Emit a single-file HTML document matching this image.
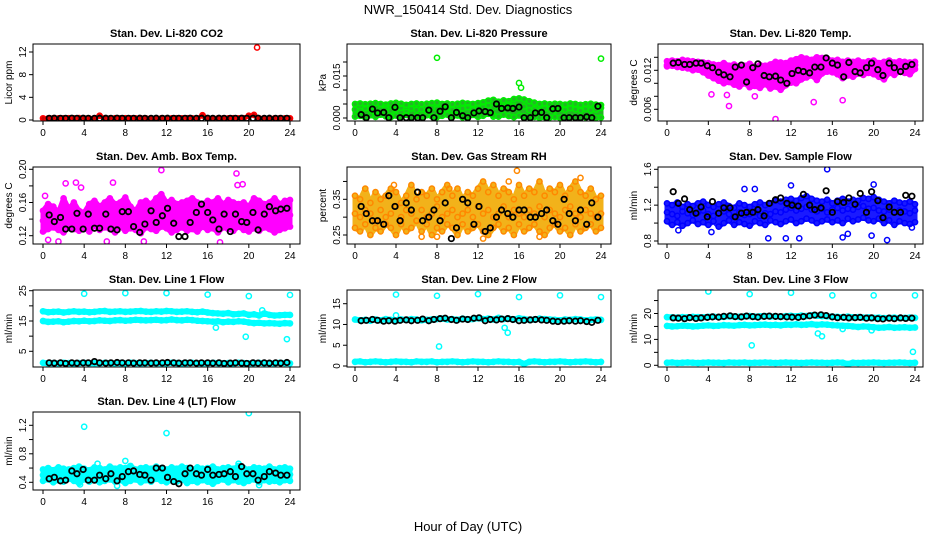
<!DOCTYPE html>
<html><head><meta charset="utf-8"><title>NWR_150414 Std. Dev. Diagnostics</title>
<style>
html,body{margin:0;padding:0;background:#fff;}
svg{display:block;font-family:"Liberation Sans",Arial,sans-serif;}
</style></head>
<body>
<svg id="chart" width="936" height="540" viewBox="0 0 936 540">
<rect x="0" y="0" width="936" height="540" fill="#fff"/>
<text x="468" y="14" text-anchor="middle" font-size="13">NWR_150414 Std. Dev. Diagnostics</text>
<text x="468" y="531" text-anchor="middle" font-size="13">Hour of Day (UTC)</text>
</svg>
<script>
// ---------- DATA ----------
const xTicks = [0,4,8,12,16,20,24];
const blackHours = [0.6,1.1,1.7,2.2,2.8,3.3,3.9,4.4,5.0,5.5,6.1,6.6,7.2,7.7,8.3,8.8,9.4,9.9,10.5,11.0,11.6,12.1,12.7,13.2,13.8,14.3,14.9,15.4,16.0,16.5,17.1,17.6,18.2,18.7,19.3,19.8,20.4,20.9,21.5,22.0,22.6,23.1,23.7];

// CO2
const co2Band = [0.3,0.28,0.32,0.3,0.29,0.31,0.3,0.33,0.3,0.28,0.31,0.75,0.3,0.29,0.32,0.3,0.31,0.29,0.3,0.32,0.3,0.28,0.3,0.31,0.3,0.29,0.32,0.3,0.31,0.3,0.29,0.85,0.3,0.31,0.3,0.29,0.3,0.32,0.3,0.31,0.75,0.9,0.3,0.31,0.29,0.3,0.32,0.3,0.29];
const co2OutX = [20.8,20.0,15.5];
const co2OutY = [12.8,0.7,0.8];
const co2Black = [0.3,0.31,0.29,0.3,0.32,0.3,0.31,0.3,0.29,0.3,0.31,0.3,0.32,0.3,0.3,0.29,0.31,0.3,0.3,0.32,0.3,0.31,0.3,0.29,0.3,0.31,0.3,0.3,0.32,0.3,0.31,0.29,0.3,0.3,0.31,0.3,0.3,0.32,0.3,0.31,0.3,0.29,0.3];

// Pressure
const presHi = [.0050,.0052,.0049,.0051,.0053,.0050,.0048,.0052,.0054,.0051,.0047,.0050,.0052,.0049,.0051,.0053,.0055,.0050,.0052,.0049,.0051,.0054,.0052,.0050,.0053,.0056,.0062,.0065,.0058,.0063,.0060,.0068,.0070,.0066,.0060,.0055,.0050,.0052,.0049,.0051,.0050,.0048,.0052,.0050,.0047,.0049,.0051,.0048,.0046];
const presMid = [.0030,.0025,.0035,.0028,.0020,.0032,.0038,.0026,.0030,.0036,.0022,.0034,.0029,.0031,.0024,.0037,.0033,.0027,.0035,.0030,.0025,.0034,.0039,.0030,.0036,.0041,.0045,.0038,.0042,.0040,.0048,.0043,.0036,.0041,.0028,.0032,.0026,.0035,.0030,.0027,.0033,.0029,.0035,.0031,.0026,.0033,.0028,.0030,.0036];
const presLo = [.0005,.0008,.0002,.0010,.0004,.0012,.0006,.0003,.0009,.0005,.0011,.0002,.0007,.0004,.0010,.0006,.0003,.0008,.0012,.0005,.0009,.0002,.0006,.0011,.0004,.0008,.0015,.0010,.0005,.0012,.0007,.0003,.0009,.0006,.0002,.0004,.0001,.0003,.0002,.0004,.0001,.0003,.0002,.0001,.0003,.0002,.0004,.0001,.0002];
const presOutX = [8,24,16,16.2,13.5];
const presOutY = [.0215,.0212,.0125,.0108,.0005];
const presBlack = [.0012,.0001,.0032,.0018,.0020,.0001,.0038,.0001,.0001,.0001,.0001,.0001,.0028,.0001,.0024,.0040,.0001,.0020,.0008,.0001,.0018,.0025,.0023,.0019,.0050,.0034,.0036,.0034,.0039,.0001,.0001,.0018,.0020,.0001,.0033,.0034,.0001,.0001,.0001,.0001,.0004,.0001,.0042];

// Li-820 temp
const tempHi = [.0134,.0135,.0134,.0136,.0135,.0134,.0133,.0132,.0131,.0129,.0128,.0131,.0127,.0129,.0126,.0127,.0130,.0125,.0128,.0127,.0129,.0133,.0132,.0131,.0135,.0137,.0140,.0138,.0136,.0140,.0139,.0138,.0135,.0136,.0133,.0135,.0133,.0135,.0132,.0134,.0135,.0131,.0133,.0135,.0132,.0134,.0133,.0132,.0133];
const tempMid = [.0128,.0130,.0131,.0129,.0130,.0128,.0129,.0127,.0126,.0122,.0120,.0118,.0115,.0112,.0116,.0110,.0113,.0109,.0114,.0117,.0108,.0112,.0106,.0110,.0118,.0120,.0122,.0118,.0125,.0123,.0128,.0132,.0130,.0127,.0122,.0125,.0127,.0124,.0122,.0126,.0125,.0120,.0124,.0127,.0122,.0126,.0125,.0123,.0128];
const tempLo = [.0126,.0127,.0125,.0124,.0123,.0120,.0121,.0117,.0112,.0108,.0104,.0100,.0102,.0098,.0095,.0100,.0094,.0096,.0093,.0099,.0092,.0095,.0090,.0097,.0101,.0100,.0106,.0109,.0112,.0105,.0115,.0118,.0117,.0114,.0108,.0112,.0110,.0115,.0113,.0116,.0114,.0110,.0106,.0116,.0113,.0118,.0116,.0114,.0122];
const tempOutX = [10.5,6,14.2,17,8.5,4.3,5.8];
const tempOutY = [.0045,.0065,.0071,.0074,.0080,.0083,.0082];
const tempBlack = [.0131,.0132,.0129,.0129,.0131,.0131,.0127,.0124,.0117,.0113,.0110,.0125,.0128,.0102,.0124,.0130,.0112,.0110,.0111,.0105,.0100,.0115,.0120,.0118,.0116,.0125,.0125,.0139,.0131,.0128,.0110,.0132,.0118,.0116,.0124,.0131,.0121,.0112,.0131,.0124,.0118,.0126,.0129];

// Amb box temp
const ambHi = [.150,.158,.155,.148,.165,.152,.160,.150,.148,.158,.162,.155,.160,.165,.158,.160,.166,.155,.150,.160,.162,.158,.165,.170,.160,.163,.158,.160,.162,.165,.160,.158,.162,.160,.165,.158,.163,.160,.158,.160,.155,.165,.162,.158,.160,.165,.158,.162,.163];
const ambMid = [.138,.142,.135,.145,.140,.138,.136,.144,.140,.145,.142,.138,.146,.140,.143,.138,.141,.145,.137,.140,.143,.139,.141,.146,.140,.138,.142,.137,.144,.140,.142,.145,.139,.141,.138,.143,.140,.145,.138,.142,.140,.137,.144,.141,.139,.143,.141,.138,.145];
const ambLo = [.125,.128,.130,.127,.124,.131,.128,.126,.129,.125,.132,.127,.130,.128,.124,.131,.126,.129,.127,.123,.130,.128,.126,.131,.129,.124,.127,.130,.126,.128,.125,.131,.127,.129,.124,.130,.128,.126,.131,.127,.125,.129,.126,.130,.128,.124,.127,.129,.131];
const ambOutX = [11.5,18.8,1.5,0.5,6.2,9.8,17.2,2.2,3.2,6.8,18.9,19.4,3.7,0.2];
const ambOutY = [.199,.195,.113,.115,.113,.113,.112,.183,.184,.184,.181,.182,.178,.168];
const ambBlack = [.145,.137,.142,.128,.128,.147,.128,.146,.129,.129,.146,.128,.127,.149,.149,.131,.124,.134,.150,.136,.144,.153,.135,.119,.119,.136,.148,.158,.148,.139,.128,.146,.125,.146,.137,.136,.148,.127,.146,.155,.150,.152,.153];

// Gas stream RH
const rhHi = [.36,.35,.38,.34,.37,.35,.36,.38,.37,.34,.36,.39,.35,.37,.36,.38,.35,.37,.39,.36,.38,.35,.37,.36,.38,.40,.37,.39,.36,.38,.37,.35,.39,.36,.38,.37,.40,.36,.38,.37,.39,.36,.38,.40,.37,.36,.38,.35,.36];
const rhMid = [.31,.30,.32,.31,.29,.32,.30,.31,.33,.30,.32,.31,.29,.32,.30,.31,.33,.30,.31,.32,.30,.31,.32,.30,.33,.31,.32,.30,.31,.33,.30,.32,.31,.30,.32,.31,.33,.30,.32,.31,.30,.32,.33,.31,.30,.32,.31,.30,.31];
const rhLo = [.27,.26,.28,.25,.27,.26,.28,.27,.25,.28,.26,.27,.29,.26,.28,.25,.27,.26,.28,.27,.25,.28,.26,.27,.28,.26,.25,.27,.28,.26,.27,.25,.28,.26,.27,.28,.26,.25,.27,.28,.26,.27,.25,.28,.26,.27,.28,.26,.27];
const rhOutX = [8,6.5,12.5,18,22,15,3.8,9.2,15.8];
const rhOutY = [.245,.245,.24,.245,.41,.40,.39,.38,.43];
const rhBlack = [.33,.31,.29,.29,.28,.36,.33,.29,.34,.32,.37,.29,.30,.32,.29,.34,.24,.27,.35,.34,.28,.33,.26,.27,.30,.32,.31,.30,.32,.32,.30,.30,.31,.32,.29,.28,.35,.31,.29,.32,.28,.34,.30];

// Sample flow
const sfHi = [1.22,1.20,1.23,1.18,1.21,1.19,1.22,1.24,1.20,1.18,1.21,1.23,1.19,1.17,1.22,1.20,1.18,1.21,1.23,1.20,1.22,1.25,1.24,1.26,1.27,1.25,1.28,1.30,1.27,1.25,1.24,1.26,1.22,1.25,1.27,1.24,1.26,1.25,1.28,1.27,1.29,1.26,1.24,1.22,1.25,1.23,1.22,1.24,1.21];
const sfMid = [1.12,1.10,1.08,1.13,1.11,1.09,1.12,1.14,1.10,1.08,1.11,1.13,1.10,1.07,1.12,1.09,1.10,1.12,1.08,1.11,1.10,1.13,1.12,1.15,1.17,1.14,1.16,1.18,1.15,1.13,1.16,1.12,1.15,1.17,1.14,1.16,1.15,1.18,1.19,1.16,1.17,1.14,1.13,1.15,1.12,1.14,1.13,1.11,1.14];
const sfLo = [1.02,0.98,1.01,0.97,1.00,1.03,0.99,1.01,0.98,1.02,0.96,1.00,1.03,0.98,1.01,0.99,0.97,1.02,1.00,0.98,1.03,1.01,0.99,1.02,1.04,1.00,1.02,1.05,1.03,1.00,1.02,1.04,1.01,1.03,1.00,1.05,1.02,1.04,1.06,1.03,1.02,1.05,1.00,1.03,0.98,1.02,1.00,0.99,1.01];
const sfOutX = [15.5,11.5,12.8,9.8,17,21.3,1.1,4.3,20,12,7.5,8.5,17.5,23.7,19.8];
const sfOutY = [1.60,0.83,0.83,0.83,0.84,0.81,0.92,0.90,1.43,1.42,1.38,1.38,0.88,0.95,0.86];
const sfBlack = [1.35,1.22,1.27,1.15,1.11,1.18,1.07,1.24,1.11,1.17,1.17,1.07,1.11,1.12,1.12,1.15,1.08,1.22,1.26,1.28,1.22,1.20,1.19,1.32,1.20,1.15,1.17,1.36,1.12,1.24,1.23,1.28,1.21,1.33,1.12,1.35,1.25,1.06,1.18,1.12,1.12,1.31,1.30];

// Line 1 flow
const l1Upper = [18.2,17.9,18.0,18.1,17.8,18.0,18.2,18.0,18.1,17.9,18.0,18.2,18.3,18.0,18.1,18.2,18.0,18.1,18.2,18.3,18.1,18.0,18.2,18.1,18.3,18.2,18.0,18.1,18.2,18.0,17.9,18.1,17.8,17.6,17.5,17.4,17.6,17.2,17.3,17.5,17.0,17.2,16.8,17.5,17.0,16.8,16.9,17.0,17.0];
const l1Lower = [15.0,14.7,14.8,14.9,14.6,14.8,15.0,14.9,15.1,14.9,15.0,15.2,15.1,15.0,15.2,15.3,15.1,15.2,15.4,15.3,15.2,15.3,15.4,15.2,15.3,15.5,15.3,15.2,15.4,15.3,15.1,15.0,14.9,14.8,14.9,14.6,14.8,14.7,14.9,14.8,14.5,14.3,14.4,14.2,14.3,14.2,14.1,14.3,14.2];
const l1Bottom = [1.2,1.0,1.1,1.0,1.2,1.1,1.0,1.1,1.2,1.0,1.1,1.0,1.2,1.1,1.0,1.1,1.0,1.2,1.1,1.0,1.1,1.2,1.0,1.1,1.0,1.2,1.1,1.0,1.1,1.2,1.0,1.1,1.0,1.2,1.1,1.0,1.1,1.0,1.2,1.1,1.0,1.1,1.2,1.0,1.1,1.0,1.2,1.1,1.0];
const l1OutX = [4,8,12,16,20,24,19.7,23.7,16.8,21.3];
const l1OutY = [24,24.2,24.2,23.7,23.2,23.6,9.8,9.0,12.8,18.5];
const l1Black = [1.2,1.1,1.2,1.0,1.2,1.1,1.2,1.2,1.6,1.2,1.1,1.2,1.3,1.2,1.2,1.1,1.2,1.2,1.1,1.2,1.2,1.3,1.2,1.1,1.2,1.2,1.1,1.2,1.2,1.1,1.2,1.0,1.1,1.2,1.1,1.0,1.2,1.1,1.2,1.1,1.2,1.1,1.3];

// Line 2 flow
const l2Band = [11.2,11.0,11.1,10.9,11.2,11.0,11.3,11.1,11.0,11.2,11.1,11.3,11.2,11.0,11.1,11.2,11.3,11.4,11.2,11.3,11.1,11.4,11.2,11.3,11.5,11.3,11.4,11.2,11.6,11.3,11.4,11.2,11.5,11.3,11.1,11.2,11.4,11.3,11.2,11.1,11.0,11.2,11.1,11.3,11.2,11.0,11.1,11.2,11.1];
const l2Bottom = [1.0,1.1,0.9,1.0,1.1,1.0,0.9,1.0,1.1,1.0,1.0,0.9,1.1,1.0,1.0,1.1,0.9,1.0,1.0,1.1,1.0,0.9,1.0,1.1,1.0,1.0,0.9,1.0,1.1,1.0,1.0,0.9,1.0,0.5,1.0,1.1,1.0,0.9,1.0,1.0,1.1,1.0,0.9,1.0,1.0,1.1,1.0,0.9,1.0];
const l2OutX = [4,8,12,16,20,24,8.2,14.6,14.9,4];
const l2OutY = [17.2,16.9,17.3,16.6,17.0,16.6,4.7,9.2,8.0,12.2];
const l2Black = [10.9,11.0,11.2,11.0,10.8,10.9,10.8,11.0,11.1,10.9,11.0,11.3,10.9,11.2,11.4,11.5,11.2,11.0,11.3,11.2,11.5,11.6,10.9,11.2,11.1,11.3,11.4,11.2,10.9,11.0,11.1,11.2,11.1,11.0,10.8,10.7,10.8,10.9,10.8,10.9,10.7,10.5,11.0];

// Line 3 flow
const l3Upper = [18.6,18.5,18.4,18.6,18.5,18.7,18.6,18.5,18.7,18.8,18.6,18.7,18.9,18.8,18.7,18.9,19.0,18.8,18.9,19.0,18.8,18.9,18.7,19.0,19.1,18.9,19.2,19.0,19.3,19.1,19.0,18.9,18.8,18.7,18.6,18.8,18.5,18.6,18.4,18.5,18.3,18.4,18.2,18.3,18.4,18.2,18.3,18.4,18.3];
const l3Mid = [15.2,15.0,15.1,15.3,15.2,15.0,15.1,15.3,15.4,15.2,15.3,15.5,15.4,15.3,15.5,15.6,15.4,15.5,15.6,15.7,15.5,15.6,15.4,15.7,15.6,15.8,15.6,15.7,15.9,15.6,15.8,15.7,15.5,15.4,15.3,15.2,15.0,14.8,15.0,14.9,14.7,14.5,14.6,14.8,14.5,14.6,14.7,14.5,14.6];
const l3Bottom = [1.0,1.1,0.9,1.0,1.1,1.0,0.9,1.0,1.1,1.0,1.0,0.9,1.1,1.0,1.0,1.1,0.9,1.0,1.0,1.1,1.0,0.9,1.0,1.1,1.0,1.0,0.9,1.0,1.1,1.0,1.0,0.9,1.0,1.1,1.0,0.5,1.0,0.9,1.0,1.0,1.1,1.0,0.9,1.0,1.0,1.1,1.0,0.9,1.0];
const l3OutX = [4,8,12,16,20,24,8.2,14.6,15,23.8,17,19.8];
const l3OutY = [28.5,27.5,28,27,27,27,7.7,12.3,11.2,5.2,14,13.5];
const l3Black = [18.3,18.2,18.0,18.4,18.1,18.3,18.5,18.7,18.6,18.9,19.1,18.8,18.7,19.0,18.8,18.6,18.9,19.0,18.9,18.8,18.7,18.6,18.5,18.8,19.1,19.4,19.5,19.2,18.7,18.4,18.5,18.3,18.4,18.5,18.2,18.3,18.0,17.9,18.2,18.0,18.3,18.1,18.2];

// Line 4 flow
const l4Hi = [.58,.60,.57,.61,.59,.58,.60,.62,.59,.57,.61,.60,.58,.62,.59,.61,.60,.63,.58,.60,.61,.59,.62,.60,.58,.61,.59,.62,.60,.58,.61,.59,.60,.62,.58,.60,.61,.59,.63,.60,.58,.61,.60,.59,.62,.58,.60,.61,.59];
const l4Mid = [.50,.52,.49,.51,.53,.50,.48,.52,.51,.49,.53,.50,.52,.48,.51,.53,.50,.49,.52,.51,.50,.53,.49,.51,.52,.50,.48,.53,.51,.50,.52,.49,.51,.53,.50,.52,.48,.51,.50,.53,.49,.52,.50,.51,.49,.53,.50,.52,.51];
const l4Lo = [.42,.44,.40,.43,.41,.45,.42,.39,.44,.41,.43,.40,.42,.44,.41,.43,.39,.42,.44,.40,.43,.41,.45,.42,.40,.43,.41,.44,.39,.42,.40,.43,.41,.38,.42,.44,.40,.43,.41,.39,.42,.44,.40,.43,.41,.42,.40,.43,.42];
const l4OutX = [4,12,20,8,7.2,3.6,21,5.3,19];
const l4OutY = [1.18,1.09,1.37,0.70,0.35,0.37,0.36,0.66,0.66];
const l4Black = [.45,.47,.42,.43,.56,.52,.58,.43,.43,.50,.45,.52,.42,.48,.55,.56,.51,.50,.43,.60,.60,.47,.41,.38,.52,.60,.52,.50,.58,.50,.51,.52,.55,.48,.62,.52,.52,.43,.48,.55,.53,.50,.50];

// ---------- DRAWING ----------
const NS = 'http://www.w3.org/2000/svg';
const svg = document.getElementById('chart');
function mk(tag, attrs, parent){
  const e = document.createElementNS(NS, tag);
  for (const k in attrs) e.setAttribute(k, attrs[k]);
  parent.appendChild(e);
  return e;
}
const COLS = [{l:33,r:300,x0:43,x24:290},{l:347,r:611,x0:355,x24:601},{l:658,r:923,x0:667,x24:915}];
const ROWS = [{t:44,b:121},{t:167,b:244},{t:290,b:367},{t:412,b:490}];

function drawPanel(p){
  const c = COLS[p.col], rw = ROWS[p.row];
  const xs = h => c.x0 + (c.x24 - c.x0) * h / 24;
  const ys = v => p.p1 + (p.p2 - p.p1) * (v - p.v1) / (p.v2 - p.v1);
  const g = mk('g', {}, svg);
  
  
  const defsId = 'clip-' + p.name;
  const cp = mk('clipPath', {id: defsId}, g);
  mk('rect', {x:c.l, y:rw.t, width:c.r-c.l, height:rw.b-rw.t}, cp);
  const title = mk('text', {x:(c.l+c.r)/2, y:rw.t-7, 'text-anchor':'middle', 'font-size':11, 'font-weight':'bold'}, g);
  title.textContent = p.title;
  
  
  const yt = mk('text', {transform:`translate(${c.l-21},${(rw.t+rw.b)/2}) rotate(-90)`, 'text-anchor':'middle', 'font-size':10}, g);
  yt.textContent = p.ylab;
  
  
  p.yticks.forEach((v, i) => {
    const y = ys(v);
    const tk = mk('line', {x1:c.l-4, x2:c.l, y1:y, y2:y, stroke:'#000', 'stroke-width':1}, g);
    
    
    if (p.ylabels[i] !== '') {
      const t = mk('text', {transform:`translate(${c.l-7},${y}) rotate(-90)`, 'text-anchor':'middle', 'font-size':10}, g);
      t.textContent = p.ylabels[i];
      
      
    }
  });
  xTicks.forEach(h => {
    const x = xs(h);
    const tk = mk('line', {x1:x, x2:x, y1:rw.b, y2:rw.b+4, stroke:'#000', 'stroke-width':1}, g);
    
    
    const t = mk('text', {x:x, y:rw.b+15, 'text-anchor':'middle', 'font-size':10}, g);
    t.textContent = String(h);
    
    
  });
  const plot = mk('g', {'clip-path':`url(#${defsId})`}, g);
  
  
  const px = (arr, i) => xs(i * 24 / (arr.length - 1));
  if (p.fill) {
    const hi = p.fill[0], lo = p.fill[1];
    const top = hi.map((v, i) => px(hi, i).toFixed(1) + ',' + ys(v).toFixed(1));
    const bot = lo.map((v, i) => px(lo, i).toFixed(1) + ',' + ys(v).toFixed(1)).reverse();
    const pg = mk('polygon', {points: top.concat(bot).join(' '), fill:p.bandColor, stroke:p.bandColor, 'stroke-width':5, 'stroke-linejoin':'round'}, plot);
    
    
  }
  p.bands.forEach(arr => {
    const pts = arr.map((v, i) => px(arr, i).toFixed(1) + ',' + ys(v).toFixed(1)).join(' ');
    const pl = mk('polyline', {points:pts, fill:'none', stroke:p.bandColor, 'stroke-width':p.bandWidth, 'stroke-linejoin':'round', 'stroke-linecap':'round'}, plot);
    
    
  });
  p.bands.forEach(arr => {
    arr.forEach((v, i) => {
      const ci = mk('circle', {cx:px(arr, i), cy:ys(v), r:2.6, fill:'none', stroke:p.color, 'stroke-width':1.5}, plot);
      
      
    });
  });
  p.outX.forEach((h, i) => {
    const ci = mk('circle', {cx:xs(h), cy:ys(p.outY[i]), r:2.6, fill:'none', stroke:p.color, 'stroke-width':1.5}, plot);
    
    
  });
  p.black.forEach((v, i) => {
    const ci = mk('circle', {cx:xs(blackHours[i]), cy:ys(v), r:2.7, fill:'none', stroke:'#000', 'stroke-width':1.8}, plot);
    
    
  });
  const box = mk('rect', {x:c.l, y:rw.t, width:c.r-c.l, height:rw.b-rw.t, fill:'none', stroke:'#000', 'stroke-width':1}, g);
  
  
}

const panels = [
 {name:'co2', title:'Stan. Dev. Li-820 CO2', ylab:'Licor ppm', col:0, row:0, v1:0, p1:120, v2:12, p2:52,
  yticks:[0,4,8,12], ylabels:['0','4','8','12'], bands:[co2Band], bandColor:'#d00000', bandWidth:4, color:'#ff0000',
  outX:co2OutX, outY:co2OutY, black:co2Black},
 {name:'pressure', title:'Stan. Dev. Li-820 Pressure', ylab:'kPa', col:1, row:0, v1:0, p1:118, v2:0.015, p2:76,
  yticks:[0,0.005,0.010,0.015,0.020], ylabels:['0.000','','','0.015',''], fill:[presHi,presLo], bands:[presHi,presMid,presLo], bandColor:'#22b822', bandWidth:4, color:'#00ee00',
  outX:presOutX, outY:presOutY, black:presBlack},
 {name:'li820-temp', title:'Stan. Dev. Li-820 Temp.', ylab:'degrees C', col:2, row:0, v1:0.006, p1:109.3, v2:0.012, p2:70.3,
  yticks:[0.006,0.008,0.010,0.012,0.014], ylabels:['0.006','','','0.012',''], fill:[tempHi,tempLo], bands:[tempHi,tempMid,tempLo], bandColor:'#ff00ff', bandWidth:4, color:'#ff00ff',
  outX:tempOutX, outY:tempOutY, black:tempBlack},
 {name:'amb-box-temp', title:'Stan. Dev. Amb. Box Temp.', ylab:'degrees C', col:0, row:1, v1:0.12, p1:235.7, v2:0.20, p2:169.3,
  yticks:[0.12,0.14,0.16,0.18,0.20], ylabels:['0.12','','0.16','','0.20'], fill:[ambHi,ambLo], bands:[ambHi,ambMid,ambLo], bandColor:'#ff00ff', bandWidth:4, color:'#ff00ff',
  outX:ambOutX, outY:ambOutY, black:ambBlack},
 {name:'gas-stream-rh', title:'Stan. Dev. Gas Stream RH', ylab:'percent', col:1, row:1, v1:0.25, p1:235, v2:0.35, p2:199.3,
  yticks:[0.25,0.30,0.35,0.40], ylabels:['0.25','','0.35',''], fill:[rhHi,rhLo], bands:[rhHi,rhMid,rhLo], bandColor:'#f2b21a', bandWidth:4, color:'#ff8800',
  outX:rhOutX, outY:rhOutY, black:rhBlack},
 {name:'sample-flow', title:'Stan. Dev. Sample Flow', ylab:'ml/min', col:2, row:1, v1:0.8, p1:241, v2:1.6, p2:169.3,
  yticks:[0.8,1.0,1.2,1.4,1.6], ylabels:['0.8','','1.2','','1.6'], fill:[sfHi,sfLo], bands:[sfHi,sfMid,sfLo], bandColor:'#1a1aff', bandWidth:4, color:'#0000ff',
  outX:sfOutX, outY:sfOutY, black:sfBlack},
 {name:'line1-flow', title:'Stan. Dev. Line 1 Flow', ylab:'ml/min', col:0, row:2, v1:5, p1:351.3, v2:25, p2:290.7,
  yticks:[5,10,15,20,25], ylabels:['5','','15','','25'], bands:[l1Upper,l1Lower,l1Bottom], bandColor:'#00ffff', bandWidth:6, color:'#00ffff',
  outX:l1OutX, outY:l1OutY, black:l1Black},
 {name:'line2-flow', title:'Stan. Dev. Line 2 Flow', ylab:'ml/min', col:1, row:2, v1:0, p1:366, v2:15, p2:303.7,
  yticks:[0,5,10,15], ylabels:['0','5','10','15'], bands:[l2Band,l2Bottom], bandColor:'#00ffff', bandWidth:6, color:'#00ffff',
  outX:l2OutX, outY:l2OutY, black:l2Black},
 {name:'line3-flow', title:'Stan. Dev. Line 3 Flow', ylab:'ml/min', col:2, row:2, v1:0, p1:365.3, v2:20, p2:313.5,
  yticks:[0,5,10,15,20,25], ylabels:['0','','10','','20',''], bands:[l3Upper,l3Mid,l3Bottom], bandColor:'#00ffff', bandWidth:6, color:'#00ffff',
  outX:l3OutX, outY:l3OutY, black:l3Black},
 {name:'line4-flow', title:'Stan. Dev. Line 4 (LT) Flow', ylab:'ml/min', col:0, row:3, v1:0.4, p1:482.3, v2:1.2, p2:425.3,
  yticks:[0.4,0.6,0.8,1.0,1.2], ylabels:['0.4','','0.8','','1.2'], fill:[l4Hi,l4Lo], bands:[l4Hi,l4Mid,l4Lo], bandColor:'#00ffff', bandWidth:4, color:'#00ffff',
  outX:l4OutX, outY:l4OutY, black:l4Black}
];
panels.forEach(drawPanel);
</script>
</body></html>
